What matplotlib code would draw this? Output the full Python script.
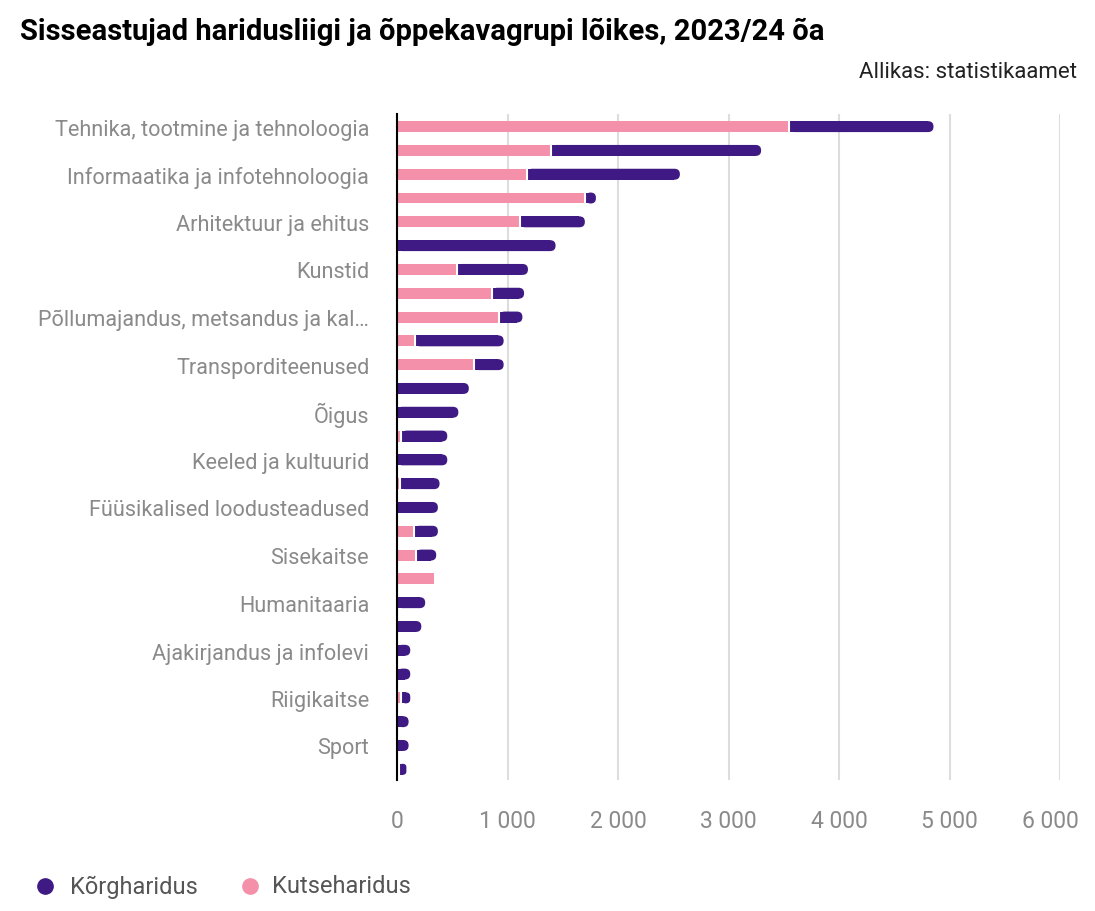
#sisseastujad haridusliigi ja oppekavagrupi loikes, tulpdiagramm

import numpy as np
import matplotlib.pyplot as plt
import matplotlib.transforms as mtransforms
from matplotlib.patches import FancyBboxPatch
from matplotlib.lines import Line2D

# ridade nimed ylevalt alla (iga teise rea nimi pole pildil naha)
groups = ['Tehnika, tootmine ja tehnoloogia', '',
          'Informaatika ja infotehnoloogia', '',
          'Arhitektuur ja ehitus', '',
          'Kunstid', '',
          'Põllumajandus, metsandus ja kal…', '',
          'Transporditeenused', '',
          'Õigus', '',
          'Keeled ja kultuurid', '',
          'Füüsikalised loodusteadused', '',
          'Sisekaitse', '',
          'Humanitaaria', '',
          'Ajakirjandus ja infolevi', '',
          'Riigikaitse', '',
          'Sport', '']
kutse = [3550, 1390, 1175, 1705, 1110, 0, 545, 860, 925, 160, 695, 0, 0, 40,
         0, 25, 0, 155, 170, 335, 0, 0, 0, 0, 40, 0, 0, 20]
korg = [1305, 1905, 1385, 95, 590, 1435, 640, 290, 210, 805, 270, 650, 555, 415,
        455, 360, 370, 215, 185, 0, 255, 220, 120, 120, 80, 105, 105, 65]
xticks = [0, 1000, 2000, 3000, 4000, 5000, 6000]

purple = '#3f1a84'
pink = '#f490aa'

plt.rcParams['font.family'] = ['Roboto', 'DejaVu Sans']

fig = plt.figure(figsize=(10.95, 9.12), dpi=100)
ax = fig.add_axes([397/1095, 1-781/912, (1060-397)/1095, (781-115)/912])

y = np.arange(len(groups))
h = 0.46
rx = 50
asp = 0.0044

ax.barh(y, kutse, height=h, color=pink, zorder=2)
for yi, s, k in zip(y, kutse, korg):
    if k <= 0:
        continue
    r = min(rx, k/2)
    # ymar parem ots
    p = FancyBboxPatch((s, yi-h/2), k, h,
                       boxstyle='round,pad=0,rounding_size=%g' % r,
                       mutation_aspect=asp, fc=purple, ec='none', zorder=2)
    ax.add_patch(p)
    ax.barh(yi, max(k - r, 0), left=s, height=h, color=purple, zorder=2)
    if s > 0:
        ax.vlines(s, yi-h/2, yi+h/2, color='white', lw=1.5, zorder=3)

ax.set_xlim(0, 6000)
ax.set_ylim(len(groups)-1+0.45, -0.53)
ax.set_xticks(xticks)
ax.set_xticklabels([f'{v:,}'.replace(',', ' ') for v in xticks])
ax.set_yticks(y)
ax.set_yticklabels(groups)
ax.xaxis.grid(True, color='#dddddd', lw=1.5)
ax.set_axisbelow(True)
for sp in ['top', 'right', 'bottom']:
    ax.spines[sp].set_visible(False)
ax.spines['left'].set_color('black')
ax.spines['left'].set_linewidth(1.5)
ax.spines['left'].set_zorder(4)
ax.tick_params(axis='x', length=0, pad=21, labelsize=16.5, labelcolor='#8a8a8a')
ax.tick_params(axis='y', length=0, pad=20, labelsize=15.6, labelcolor='#8a8a8a')

# viimane silt veidi vasakule, nagu originaalis
lab = ax.get_xticklabels()[-1]
lab.set_transform(lab.get_transform() + mtransforms.ScaledTranslation(-0.1, 0, fig.dpi_scale_trans))

fig.text(20/1095, 1-32/912, 'Sisseastujad haridusliigi ja õppekavagrupi lõikes, 2023/24 õa',
         fontsize=21, weight='bold', va='center')
fig.text(1077/1095, 1-72/912, 'Allikas: statistikaamet', ha='right', va='center',
         fontsize=16, color='#222222')

# legend kaes
for xm, xt, col, lab in [(45, 70, purple, 'Kõrgharidus'), (250, 272, pink, 'Kutseharidus')]:
    fig.add_artist(Line2D([xm/1095], [1-887/912], marker='o', ms=11, color=col,
                          ls='none', transform=fig.transFigure))
    fig.text(xt/1095, 1-887/912, lab, va='center', fontsize=17, color='#555555')

plt.savefig('out.png', dpi=100)
